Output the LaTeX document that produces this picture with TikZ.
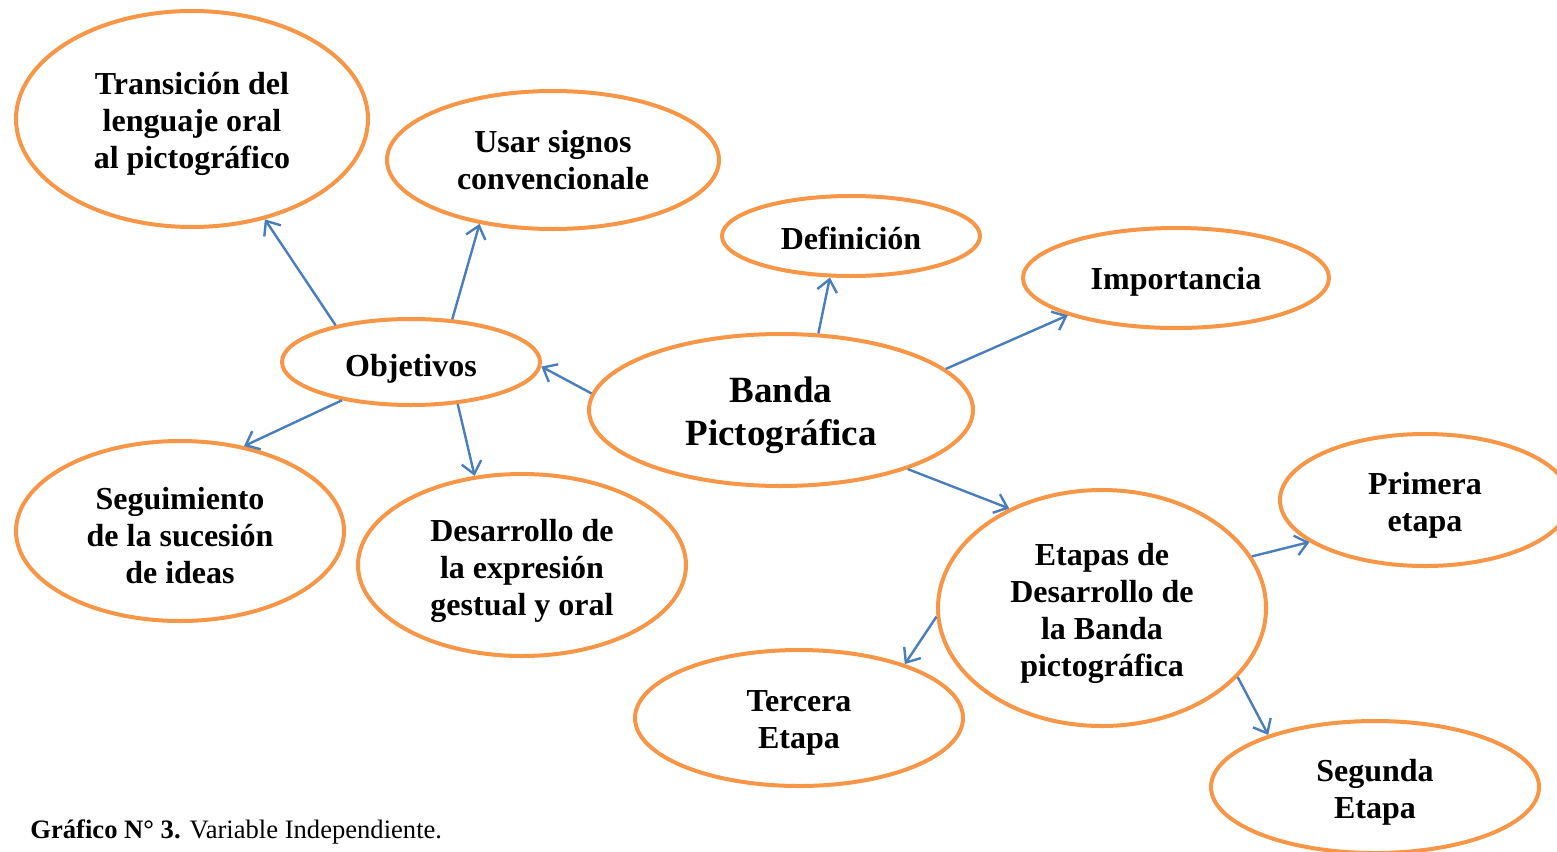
\documentclass[tikz,border=0pt]{standalone}
\usepackage{fontspec}
\setmainfont{Liberation Serif}
\usetikzlibrary{shapes.geometric,arrows.meta}
\definecolor{orng}{RGB}{247,150,70}
\definecolor{arrblue}{RGB}{74,126,187}
\tikzset{
  bub/.style={ellipse,draw=orng,line width=2pt,inner sep=0pt},
  lbl/.style={inner sep=0pt,align=center,yshift=-2.5pt,
    font=\bfseries\fontsize{16}{18.5}\selectfont},
  biglbl/.style={lbl,font=\bfseries\fontsize{18.5}{21.5}\selectfont},
  conn/.style={draw=arrblue,line width=1.2pt,-{Straight Barb[length=6pt,width=10pt]}}
}
\begin{document}
\begin{tikzpicture}[x=0.5pt,y=-0.5pt]
\useasboundingbox (0,0) rectangle (1557,851);
\clip (0,0) rectangle (1557,851);
\node[bub,minimum width=176pt,minimum height=108pt,label={[lbl]center:{Transición del\\lenguaje oral\\al pictográfico}}] (trans) at (192,119) {};
\node[bub,minimum width=166pt,minimum height=69pt,label={[lbl,yshift=2.3pt]center:{Usar signos\\convencionale}}] (usar) at (553,160) {};
\node[bub,minimum width=129pt,minimum height=40pt,label={[lbl,yshift=1.5pt]center:{Definición}}] (def) at (851,236) {};
\node[bub,minimum width=153pt,minimum height=50pt,label={[lbl,yshift=0.5pt]center:{Importancia}}] (imp) at (1176,278) {};
\node[bub,minimum width=129pt,minimum height=43pt,label={[lbl,yshift=-1pt]center:{Objetivos}}] (obj) at (411,362) {};
\node[bub,minimum width=192pt,minimum height=76pt,label={[biglbl]center:{Banda\\Pictográfica}}] (banda) at (781,410) {};
\node[bub,minimum width=164pt,minimum height=90pt,label={[lbl]center:{Seguimiento\\de la sucesión\\de ideas}}] (seg) at (180,531) {};
\node[bub,minimum width=164pt,minimum height=91pt,label={[lbl,yshift=-0.5pt]center:{Desarrollo de\\la expresión\\gestual y oral}}] (des) at (522,565) {};
\node[bub,minimum width=145pt,minimum height=66pt,label={[lbl]center:{Primera\\etapa}}] (prim) at (1425,500) {};
\node[bub,minimum width=164pt,minimum height=118pt,label={[lbl]center:{Etapas de\\Desarrollo de\\la Banda\\pictográfica}}] (etapas) at (1102,608) {};
\node[bub,minimum width=164pt,minimum height=68pt,label={[lbl]center:{Tercera\\Etapa}}] (terc) at (799,718) {};
\node[bub,minimum width=164pt,minimum height=66pt,label={[lbl]center:{Segunda\\Etapa}}] (segu) at (1375,787) {};
\path[conn] (obj.154) -- (trans.-54);
\path[conn] (obj.46) -- (usar.221);
\path[conn] (banda.175) -- (obj.-2);
\path[conn] (obj.209) -- (seg.53);
\path[conn] (obj.-42) -- (des.118);
\path[conn] (banda.64) -- (def.243);
\path[conn] (banda.14) -- (imp.199);
\path[conn] (banda.-25) -- (etapas.133);
\path[conn] (etapas.19) -- (prim.200);
\path[conn] (etapas.183) -- (terc.27);
\path[conn] (etapas.-27) -- (segu.154);
\node[anchor=base west,inner sep=0pt,font=\fontsize{13.3}{15}\selectfont] (cap) at (30,838) {\textbf{Gráfico N° 3.} Variable Independiente.};
\end{tikzpicture}
\end{document}
